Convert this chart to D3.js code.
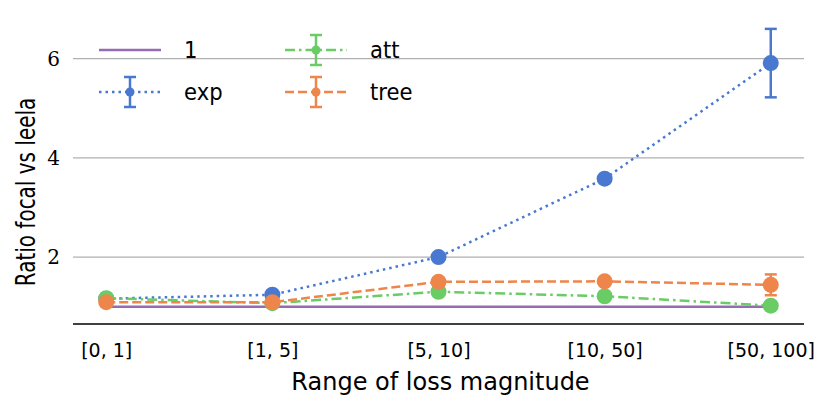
<!DOCTYPE html>
<html><head><meta charset="utf-8">
<script src="https://cdn.jsdelivr.net/npm/d3@7/dist/d3.min.js"></script>
<style>body{margin:0;background:#fff}</style>
</head><body>
<svg id="c" width="831" height="411"></svg>
<script>
const categories = ["[0, 1]", "[1, 5]", "[5, 10]", "[10, 50]", "[50, 100]"];
const yTicks = [2, 4, 6];
const oneValues = [1, 1, 1, 1, 1];
const expValues = [1.16, 1.24, 2.0, 3.58, 5.91];
const expErrors = [0.02, 0.03, 0.03, 0.05, 0.69];
const attValues = [1.17, 1.07, 1.30, 1.21, 1.02];
const attErrors = [0.02, 0.02, 0.03, 0.03, 0.03];
const treeValues = [1.09, 1.09, 1.50, 1.51, 1.44];
const treeErrors = [0.02, 0.02, 0.03, 0.03, 0.21];

const series = [
  {name: "1", values: oneValues, errors: null, color: "#956cb4", dash: null, marker: false},
  {name: "exp", values: expValues, errors: expErrors, color: "#4878d0", dash: "2.5,4", marker: true},
  {name: "att", values: attValues, errors: attErrors, color: "#6acc64", dash: "10,4,2.5,4", marker: true},
  {name: "tree", values: treeValues, errors: treeErrors, color: "#ee854a", dash: "9,4", marker: true}
];

const svg = d3.select("#c");
const L = 73, R = 804;
const x = d3.scalePoint().domain(categories).range([L, R]).padding(0.2);
const y = d3.scaleLinear().domain([0.65, 6.9]).range([324, 14]);
const sans = "'DejaVu Sans',sans-serif";

// grid
svg.append("g").selectAll("line").data(yTicks).join("line")
  .attr("x1", L).attr("x2", R).attr("y1", d => y(d)).attr("y2", d => y(d))
  .attr("stroke", "#b0b0b0").attr("stroke-width", 1.2);
// y tick labels
svg.append("g").selectAll("text").data(yTicks).join("text")
  .attr("x", 60).attr("y", d => y(d)).attr("dy", "0.35em").attr("text-anchor", "end")
  .attr("font-family", "'DejaVu Serif','Liberation Serif',serif").attr("font-size", 20)
  .text(d => d);
// bottom axis
const xa = svg.append("g").attr("transform", `translate(0,${y(0.65)})`).call(d3.axisBottom(x).tickSize(0).tickPadding(19.5));
xa.select(".domain").attr("stroke", "#000").attr("stroke-width", 1.6).attr("d", `M${L},0H${R}`);
xa.selectAll("text").attr("font-family", sans).attr("font-size", 19).attr("fill", "#000");

svg.append("text").attr("x", (L + R) / 2 + 2).attr("y", 390).attr("text-anchor", "middle")
  .attr("font-family", sans).attr("font-size", 24).text("Range of loss magnitude");
svg.append("text").attr("transform", "translate(35,192) rotate(-90) scale(0.74,1)").attr("text-anchor", "middle")
  .attr("font-family", sans).attr("font-size", 27).text("Ratio focal vs leela");

const line = d3.line().x((d, i) => x(categories[i])).y(d => y(d));
series.forEach(s => {
  const g = svg.append("g");
  g.append("path").attr("d", line(s.values)).attr("fill", "none").attr("stroke", s.color)
    .attr("stroke-width", 2.5).attr("stroke-dasharray", s.dash);
  if (s.errors) {
    s.values.forEach((v, i) => {
      const cx = x(categories[i]), e = s.errors[i];
      g.append("line").attr("x1", cx).attr("x2", cx).attr("y1", y(v - e)).attr("y2", y(v + e))
        .attr("stroke", s.color).attr("stroke-width", 2.5);
      [v - e, v + e].forEach(t => g.append("line").attr("x1", cx - 6).attr("x2", cx + 6)
        .attr("y1", y(t)).attr("y2", y(t)).attr("stroke", s.color).attr("stroke-width", 2.5));
    });
  }
  if (s.marker) {
    g.selectAll("circle").data(s.values).join("circle")
      .attr("cx", (d, i) => x(categories[i])).attr("cy", d => y(d)).attr("r", 8).attr("fill", s.color);
  }
});

// legend
const legPos = [[99, 50], [99, 92], [285, 50], [285, 92]];
series.forEach((s, k) => {
  const [lx, ly] = legPos[k];
  const g = svg.append("g");
  g.append("line").attr("x1", lx).attr("x2", lx + 62).attr("y1", ly).attr("y2", ly)
    .attr("stroke", s.color).attr("stroke-width", 2.5).attr("stroke-dasharray", s.dash);
  if (s.marker) {
    const cx = lx + 31;
    g.append("line").attr("x1", cx).attr("x2", cx).attr("y1", ly - 15).attr("y2", ly + 15)
      .attr("stroke", s.color).attr("stroke-width", 2.5);
    [ly - 15, ly + 15].forEach(t => g.append("line").attr("x1", cx - 6).attr("x2", cx + 6)
      .attr("y1", t).attr("y2", t).attr("stroke", s.color).attr("stroke-width", 2.5));
    g.append("circle").attr("cx", cx).attr("cy", ly).attr("r", 4.5).attr("fill", s.color);
  }
  g.append("text").attr("transform", `translate(${lx + 85},${ly}) scale(0.92,1)`).attr("dy", "0.35em")
    .attr("font-family", sans).attr("font-size", 23).text(s.name);
});
</script>
</body></html>
